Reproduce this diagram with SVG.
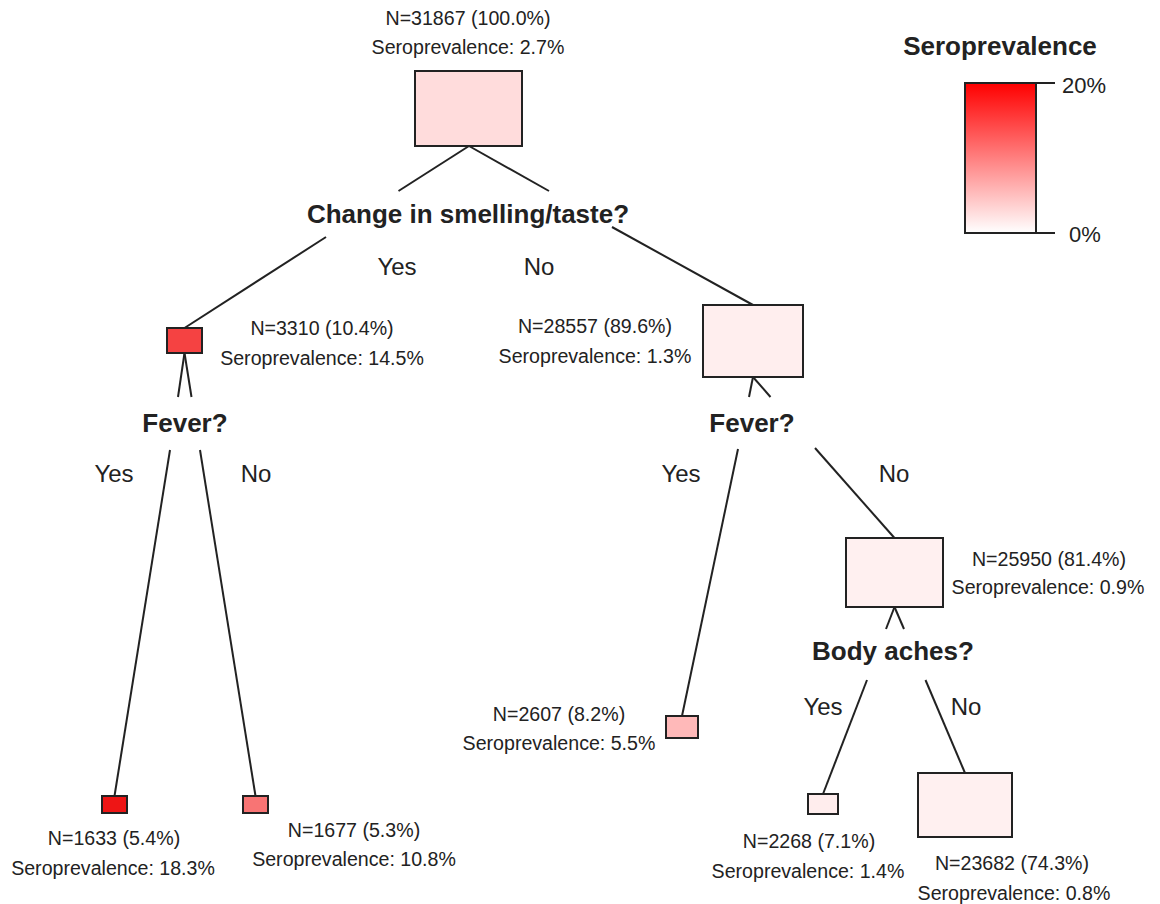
<svg xmlns="http://www.w3.org/2000/svg" width="1160" height="904" viewBox="0 0 1160 904">
<style>
text{font-family:"Liberation Sans",Arial,sans-serif;fill:#222;text-anchor:middle}
.info{font-size:19.6px}
.lab{font-size:24px}
.q{font-size:26px;font-weight:bold}
.box{stroke:#222;stroke-width:2}
.edge{stroke:#222;stroke-width:2;fill:none}
.leg{font-size:22px;text-anchor:start}
</style>
<defs>
<linearGradient id="grad" x1="0" y1="0" x2="0" y2="1">
<stop offset="0" stop-color="#FF0000"/>
<stop offset="1" stop-color="#FFFFFF"/>
</linearGradient>
</defs>
<rect width="1160" height="904" fill="#fff"/>
<g id="connectors">
<line class="edge" x1="469" y1="146" x2="398.5" y2="191"/>
<line class="edge" x1="326" y1="237" x2="184.5" y2="328"/>
<line class="edge" x1="469" y1="146" x2="549" y2="191"/>
<line class="edge" x1="612" y1="227" x2="753" y2="305"/>
<line class="edge" x1="184.5" y1="353" x2="178" y2="397"/>
<line class="edge" x1="170" y1="450" x2="114.5" y2="796"/>
<line class="edge" x1="184.5" y1="353" x2="191.5" y2="397"/>
<line class="edge" x1="200" y1="450" x2="255.5" y2="796"/>
<line class="edge" x1="753" y1="377" x2="749" y2="397"/>
<line class="edge" x1="738" y1="449" x2="682" y2="716"/>
<line class="edge" x1="753" y1="377" x2="770.5" y2="397"/>
<line class="edge" x1="815" y1="448" x2="894.5" y2="538"/>
<line class="edge" x1="894.5" y1="607" x2="886" y2="629"/>
<line class="edge" x1="867" y1="680" x2="823" y2="794"/>
<line class="edge" x1="894.5" y1="607" x2="904" y2="629"/>
<line class="edge" x1="925.5" y1="680" x2="965" y2="773"/>
<text class="q" x="468" y="223">Change in smelling/taste?</text>
<text class="lab" x="397" y="275">Yes</text>
<text class="lab" x="539" y="275">No</text>
<text class="q" x="185" y="432">Fever?</text>
<text class="lab" x="114" y="482">Yes</text>
<text class="lab" x="256" y="482">No</text>
<text class="q" x="752" y="432">Fever?</text>
<text class="lab" x="681" y="482">Yes</text>
<text class="lab" x="894" y="482">No</text>
<text class="q" x="893" y="660">Body aches?</text>
<text class="lab" x="823" y="715">Yes</text>
<text class="lab" x="966" y="715">No</text>
</g>
<g id="n0">
<text class="info" x="468" y="25">N=31867 (100.0%)</text>
<text class="info" x="468" y="54">Seroprevalence: 2.7%</text>
<rect class="box" x="415" y="71" width="107" height="75" fill="#FFDCDC"/>
</g>
<g id="n1">
<rect class="box" x="167" y="328" width="35" height="25" fill="#F54242"/>
<text class="info" x="322" y="335">N=3310 (10.4%)</text>
<text class="info" x="322" y="365">Seroprevalence: 14.5%</text>
</g>
<g id="n2">
<rect class="box" x="703" y="305" width="100" height="72" fill="#FFEEEE"/>
<text class="info" x="595" y="333">N=28557 (89.6%)</text>
<text class="info" x="595" y="363">Seroprevalence: 1.3%</text>
</g>
<g id="n3">
<rect class="box" x="102" y="796" width="25" height="17" fill="#EE1515"/>
<text class="info" x="114" y="845">N=1633 (5.4%)</text>
<text class="info" x="113" y="875">Seroprevalence: 18.3%</text>
</g>
<g id="n4">
<rect class="box" x="243" y="796" width="25" height="17" fill="#F87474"/>
<text class="info" x="354" y="837">N=1677 (5.3%)</text>
<text class="info" x="354" y="866">Seroprevalence: 10.8%</text>
</g>
<g id="n5">
<rect class="box" x="666" y="716" width="32" height="22" fill="#FFB9B9"/>
<text class="info" x="559" y="721">N=2607 (8.2%)</text>
<text class="info" x="559" y="750">Seroprevalence: 5.5%</text>
</g>
<g id="n6">
<rect class="box" x="846" y="538" width="97" height="69" fill="#FFF0F0"/>
<text class="info" x="1049" y="566">N=25950 (81.4%)</text>
<text class="info" x="1048" y="594">Seroprevalence: 0.9%</text>
</g>
<g id="n7">
<rect class="box" x="808" y="794" width="30" height="20" fill="#FFEDED"/>
<text class="info" x="809" y="848">N=2268 (7.1%)</text>
<text class="info" x="808" y="878">Seroprevalence: 1.4%</text>
</g>
<g id="n8">
<rect class="box" x="918" y="773" width="94" height="64" fill="#FFF0F0"/>
<text class="info" x="1012" y="870">N=23682 (74.3%)</text>
<text class="info" x="1014" y="900">Seroprevalence: 0.8%</text>
</g>
<g id="legend">
<text class="q" x="1000" y="55">Seroprevalence</text>
<rect class="box" x="965" y="83" width="71" height="150" fill="url(#grad)"/>
<line class="edge" x1="1036" y1="83" x2="1055" y2="83"/>
<line class="edge" x1="1036" y1="233" x2="1055" y2="233"/>
<text class="leg" x="1062" y="93">20%</text>
<text class="leg" x="1069" y="242">0%</text>
</g>
</svg>
